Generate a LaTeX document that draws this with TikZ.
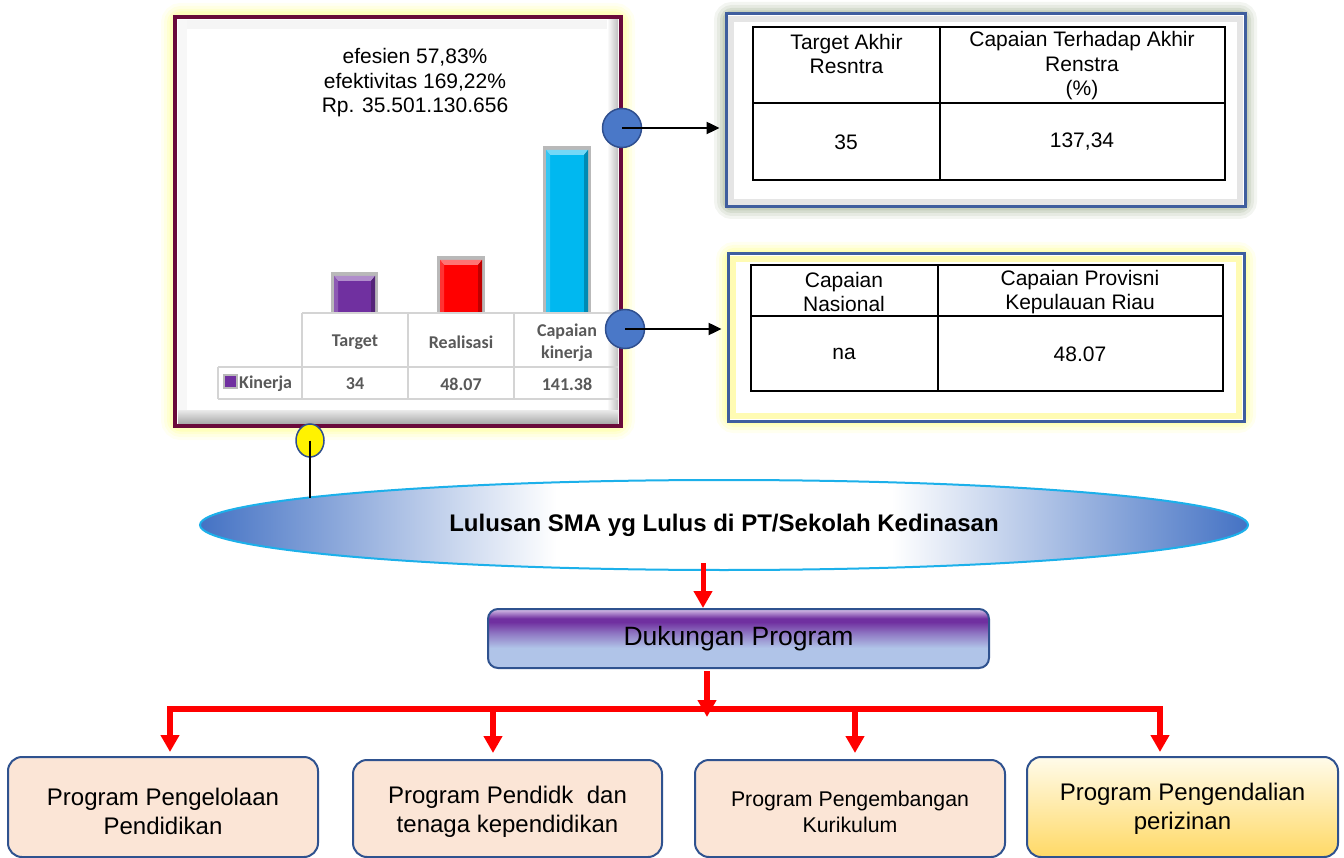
\documentclass[tikz,border=0pt]{standalone}
\usepackage{fontspec}
\setmainfont{Liberation Sans}
\newfontfamily\carl{Carlito}
\usetikzlibrary{shapes.geometric,arrows.meta}
\definecolor{chartbd}{HTML}{6A0A3A}
\definecolor{bluebd}{HTML}{3F5E9E}
\definecolor{circblue}{HTML}{4A78C8}
\definecolor{circbd}{HTML}{2F4F8F}
\definecolor{ellblue}{HTML}{4472C4}
\definecolor{ellline}{HTML}{1CB0EA}
\definecolor{peach}{HTML}{FBE5D6}
\definecolor{boxbd}{HTML}{2F528F}
\definecolor{tgray}{HTML}{595959}
\definecolor{tline}{HTML}{D4D4D4}
\definecolor{barpurple}{HTML}{7030A0}
\definecolor{barred}{HTML}{FF0000}
\definecolor{barcyan}{HTML}{00B8F0}
\definecolor{glowY}{HTML}{FFFF80}
\definecolor{glowG}{HTML}{9FAF8F}
\definecolor{dkbot}{HTML}{B0C4E8}
\definecolor{dkpur}{HTML}{7030A0}
\definecolor{dktop}{HTML}{D8C4EA}
\definecolor{yelbot}{HTML}{FFD966}
\definecolor{yeltop}{HTML}{FFFBEA}
\pgfdeclarehorizontalshading{ellshade}{100bp}{color(0bp)=(ellblue); color(25bp)=(ellblue); color(31bp)=(ellblue!65!white); color(42bp)=(white); color(58bp)=(white); color(69bp)=(ellblue!65!white); color(75bp)=(ellblue); color(100bp)=(ellblue)}
\pgfdeclareverticalshading{dkshade}{100bp}{color(0bp)=(dkbot); color(25bp)=(dkbot); color(42bp)=(dkbot); color(54bp)=(dkbot!50!dkpur); color(64bp)=(dkpur); color(67bp)=(dkpur); color(75bp)=(dktop); color(100bp)=(dktop)}
\newcommand\chartbar[4]{%
  \fill[gray!55] (#1,#2) rectangle (#3,313);
  \fill[#4] (#1+3,#2+4) rectangle (#3-3,313);
  \fill[#4!55!white] (#1+3,#2+4) -- (#3-3,#2+4) -- (#3-7,#2+9) -- (#1+7,#2+9) -- cycle;
  \fill[#4!75!black] (#3-3,#2+4) -- (#3-7,#2+9) -- (#3-7,313) -- (#3-3,313) -- cycle;
  \fill[#4!80!white] (#1+3,#2+4) -- (#1+7,#2+9) -- (#1+7,313) -- (#1+3,313) -- cycle;
}
\tikzset{
  tcell/.style={font=\fontsize{21}{24.5}\selectfont, align=center, inner sep=0pt},
  ctext/.style={font=\carl\bfseries\fontsize{18}{22}\selectfont, text=tgray, align=center, inner sep=0pt},
  prog/.style={draw=boxbd, line width=2pt, rounded corners=14pt, fill=peach, inner sep=0pt},
  progtext/.style={align=center, inner sep=0pt, font=\fontsize{24}{29}\selectfont},
  blackarrow/.style={line width=2.4pt, -{Triangle[length=13pt,width=12pt]}},
  redarrow/.style={red, line width=5.5pt, -{Triangle[length=17pt,width=18pt]}},
  circ/.style={circle, fill=circblue, draw=circbd, line width=1.5pt, minimum size=39pt, inner sep=0pt},
  tabline/.style={line width=1.3pt, black},
  ctline/.style={line width=1.8pt, tline},
}
\begin{document}
\begin{tikzpicture}[x=1pt,y=-1pt]
\useasboundingbox (0,0) rectangle (1344,858);
% ---------- chart panel ----------
\foreach \w/\o in {28/0.10,22/0.13,16/0.18,11/0.25}
  \draw[glowY, line width=\w pt, opacity=\o, rounded corners=6pt] (175,17) rectangle (621,426);
\fill[white] (175,17) rectangle (621,426);
\fill[gray!8] (178,20) rectangle (618,29);
\fill[gray!6] (178,20) rectangle (187,423);
\shade[left color=white, right color=gray!50] (607,20) rectangle (618,423);
\shade[top color=gray!20, bottom color=gray!65] (178,411) rectangle (618,423);
\draw[chartbd, line width=4.5pt] (175,17) rectangle (621,426);
\node[font=\fontsize{21}{24.5}\selectfont, align=center, inner sep=0pt] (ttl) at (415,83)
  {efesien 57,83\%\\efektivitas 169,22\%\\Rp. 35.501.130.656};
\chartbar{331}{272}{378}{barpurple}
\chartbar{437}{256}{485}{barred}
\chartbar{543}{146}{591}{barcyan}
\draw[ctline] (302,313) -- (618,313);
\draw[ctline] (218,367) -- (618,367);
\draw[ctline] (218,399) -- (618,399);
\draw[ctline] (218,367) -- (218,399);
\draw[ctline] (302,313) -- (302,399);
\draw[ctline] (408,313) -- (408,399);
\draw[ctline] (514,313) -- (514,399);
\node[ctext] (h1) at (355,342) {Target};
\node[ctext] (h2) at (461,342) {Realisasi};
\node[ctext] (h3) at (567,343) {Capaian\\kinerja};
\node[draw=gray!55, fill=barpurple, line width=2pt, minimum size=13pt, inner sep=0pt] (leg) at (230,382) {};
\node[ctext, anchor=west] (rowlab) at (239,384) {Kinerja};
\node[ctext] (v1) at (355,384) {34};
\node[ctext] (v2) at (461,384) {48.07};
\node[ctext] (v3) at (567,384) {141.38};
% ---------- right panel 1 ----------
\foreach \w/\o in {24/0.12,18/0.16,12/0.22,7/0.3}
  \draw[glowG, line width=\w pt, opacity=\o, rounded corners=6pt] (726,14) rectangle (1245,207);
\node[draw=bluebd, line width=3pt, fill=white, minimum width=519pt, minimum height=193pt, inner sep=0pt] (rb1) at (985.5,110.5) {};
\draw[gray!20, line width=6pt] (731,19) rectangle (1240,202);
\draw[tabline] (753,27) rectangle (1225,180);
\draw[tabline] (940,27) -- (940,180);
\draw[tabline] (753,103) -- (1225,103);
\node[tcell] (t1a) at (846.5,54) {Target Akhir\\Resntra};
\node[tcell] (t1b) at (1082,66) {Capaian Terhadap Akhir\\Renstra\\(\%)};
\node[tcell] (t1c) at (846,142) {35};
\node[tcell] (t1d) at (1082,142) {137,34};
% ---------- right panel 2 ----------
\foreach \w/\o in {24/0.12,18/0.16,12/0.22,7/0.3}
  \draw[glowY, line width=\w pt, opacity=\o, rounded corners=6pt] (728,254) rectangle (1244,421);
\node[draw=bluebd, line width=3pt, fill=white, minimum width=516pt, minimum height=167pt, inner sep=0pt] (rb2) at (986,337.5) {};
\draw[yellow!30, line width=6pt] (733,259) rectangle (1239,416);
\draw[tabline] (751,265) rectangle (1223,391);
\draw[tabline] (938,265) -- (938,391);
\draw[tabline] (751,316) -- (1223,316);
\node[tcell] (t2a) at (844,292) {Capaian\\Nasional};
\node[tcell] (t2b) at (1080,292) {Capaian Provisni\\Kepulauan Riau};
\node[tcell] (t2c) at (844,354) {na};
\node[tcell] (t2d) at (1080,354) {48.07};
% ---------- connectors circles ----------
\node[circ] (c1) at (622,128) {};
\node[circ] (c2) at (625,329) {};
\draw[blackarrow, shorten >=5pt] (c1.center) -- (c1.center -| rb1.west);
\draw[blackarrow, shorten >=5pt] (c2.center) -- (c2.center -| rb2.west);
% ---------- ellipse ----------
\node[ellipse, shade, shading=ellshade, draw=ellline, line width=2pt, minimum width=1048pt, minimum height=90pt, inner sep=0pt,
      font=\bfseries\fontsize{24}{28}\selectfont] (ell) at (724,525) {Lulusan SMA yg Lulus di PT/Sekolah Kedinasan};
\node[ellipse, fill=yellow, draw=circbd, line width=1.5pt, minimum width=28pt, minimum height=33pt, inner sep=0pt] (ye) at (310,440.5) {};
\coordinate (yend) at (310,498);
\draw[line width=2.8pt] (ye.center) -- (yend);
% ---------- program tree ----------
\node[rounded corners=10pt, draw=boxbd, line width=2pt, shade, shading=dkshade, minimum width=501pt, minimum height=59pt, inner sep=0pt,
      font=\fontsize{26.5}{30}\selectfont] (dk) at (738.5,638.5) {Dukungan Program};
\coordinate (r1) at (703,563);
\draw[redarrow, line width=5pt] (r1) -- (r1 |- dk.north);
\coordinate (r2) at (707,671);
\coordinate (bus) at (707,717);
\draw[redarrow] (r2) -- (bus);
\node[prog, minimum width=310pt, minimum height=100pt] (p1) at (163,807) {};
\node[prog, minimum width=309pt, minimum height=97pt] (p2) at (507.5,808.5) {};
\node[prog, minimum width=310pt, minimum height=97pt] (p3) at (850,808.5) {};
\node[prog, fill=none, top color=yeltop, bottom color=yelbot, minimum width=311pt, minimum height=100pt] (p4) at (1182.5,807) {};
\node[progtext] (p1t) at ([yshift=-4.5pt]p1.center) {Program Pengelolaan\\Pendidikan};
\node[progtext] (p2t) at ([yshift=-3pt]p2.center) {Program Pendidk\ \ dan\\tenaga kependidikan};
\node[progtext, font=\fontsize{21.3}{26}\selectfont] (p3t) at ([yshift=-3.5pt]p3.center) {Program Pengembangan\\Kurikulum};
\node[progtext] (p4t) at ([yshift=-2pt]p4.center) {Program Pengendalian\\perizinan};
\coordinate (busL) at (167,709);
\coordinate (busR) at (1163,709);
\draw[red, line width=6.5pt] (busL) -- (busR);
\coordinate (k1) at (170,706);
\coordinate (k2) at (493,706);
\coordinate (k3) at (855,706);
\coordinate (k4) at (1160,706);
\draw[redarrow, shorten >=4pt] (k1) -- (k1 |- p1.north);
\draw[redarrow, shorten >=6pt] (k2) -- (k2 |- p2.north);
\draw[redarrow, shorten >=6pt] (k3) -- (k3 |- p3.north);
\draw[redarrow, shorten >=4pt] (k4) -- (k4 |- p4.north);
\end{tikzpicture}
\end{document}
